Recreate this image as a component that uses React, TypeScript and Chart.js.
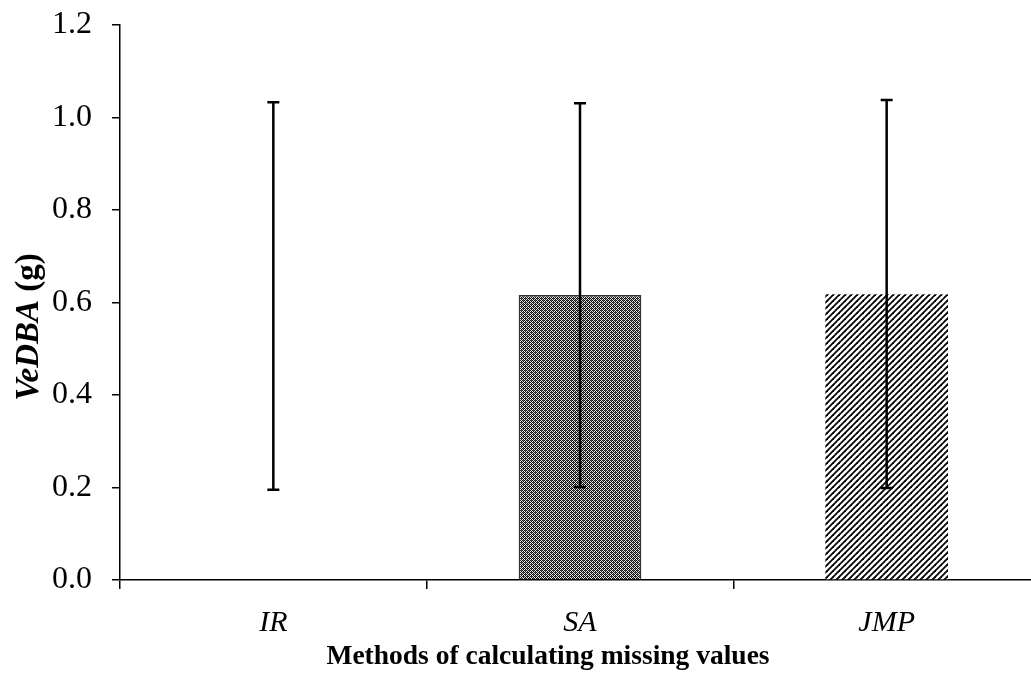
import React, { useEffect, useRef } from "react";
import { Chart, registerables } from "chart.js";

Chart.register(...registerables);

// Mean VeDBA per gap-filling method, with the low/high ends of the error bars
const methods = ["IR", "SA", "JMP"];
const meanVeDBA = [0.614, 0.616, 0.618];
const errLow = [0.195, 0.201, 0.199];
const errHigh = [1.033, 1.031, 1.038];
const yTicks = [0, 0.2, 0.4, 0.6, 0.8, 1.0, 1.2];

const SERIF = "'Liberation Serif', 'Times New Roman', serif";
const X_TITLE = "Methods of calculating missing values";

// Fine stipple used for the SA bar
function stipplePattern(ctx: CanvasRenderingContext2D): CanvasPattern | string {
  const c = document.createElement("canvas");
  c.width = 4;
  c.height = 4;
  const g = c.getContext("2d");
  if (!g) return "#777";
  g.fillStyle = "#e4e4e4";
  g.fillRect(0, 0, 4, 4);
  g.fillStyle = "#111";
  for (let y = 0; y < 4; y++) {
    for (let x = 0; x < 4; x++) {
      if ((x + y) % 2 === 0) g.fillRect(x, y, 1, 1);
    }
  }
  g.fillStyle = "#555";
  g.fillRect(1, 2, 1, 1);
  g.fillRect(3, 0, 1, 1);
  return ctx.createPattern(c, "repeat") || "#777";
}

// Diagonal hatching used for the JMP bar
function hatchPattern(ctx: CanvasRenderingContext2D): CanvasPattern | string {
  const s = 6;
  const c = document.createElement("canvas");
  c.width = s;
  c.height = s;
  const g = c.getContext("2d");
  if (!g) return "#555";
  g.fillStyle = "#fff";
  g.fillRect(0, 0, s, s);
  g.strokeStyle = "#000";
  g.lineWidth = 1.8;
  for (const off of [-s, 0, s]) {
    g.beginPath();
    g.moveTo(off - 1, s + 1);
    g.lineTo(off + s + 1, -1);
    g.stroke();
  }
  return ctx.createPattern(c, "repeat") || "#555";
}

const errorBars = {
  id: "errorBars",
  afterDatasetsDraw(chart: any) {
    const { ctx } = chart;
    const x = chart.scales.x;
    const y = chart.scales.y;
    ctx.save();
    ctx.strokeStyle = "#000";
    ctx.lineWidth = 2.5;
    methods.forEach((_, i) => {
      const cx = x.getPixelForValue(i);
      const yl = y.getPixelForValue(errLow[i]);
      const yh = y.getPixelForValue(errHigh[i]);
      ctx.beginPath();
      ctx.moveTo(cx, yl);
      ctx.lineTo(cx, yh);
      ctx.moveTo(cx - 6, yl);
      ctx.lineTo(cx + 6, yl);
      ctx.moveTo(cx - 6, yh);
      ctx.lineTo(cx + 6, yh);
      ctx.stroke();
    });
    ctx.restore();
  },
};

// Axis titles: the y title mixes bold-italic and bold runs
const axisTitles = {
  id: "axisTitles",
  afterDraw(chart: any) {
    const { ctx } = chart;
    ctx.save();
    ctx.fillStyle = "#000";
    ctx.textBaseline = "middle";

    // x title
    ctx.font = `bold 27.5px ${SERIF}`;
    ctx.textAlign = "center";
    ctx.fillText(X_TITLE, 548, 657);

    // y title
    const parts = [
      { text: "VeDBA", font: `italic bold 33px ${SERIF}` },
      { text: " (g)", font: `bold 33px ${SERIF}` },
    ];
    let total = 0;
    const widths = parts.map((p) => {
      ctx.font = p.font;
      const w = ctx.measureText(p.text).width;
      total += w;
      return w;
    });
    ctx.translate(29, 327);
    ctx.rotate(-Math.PI / 2);
    ctx.textAlign = "left";
    let px = -total / 2;
    parts.forEach((p, i) => {
      ctx.font = p.font;
      ctx.fillText(p.text, px, 0);
      px += widths[i];
    });
    ctx.restore();
  },
};

export default function App() {
  const ref = useRef<HTMLCanvasElement | null>(null);

  useEffect(() => {
    const canvas = ref.current;
    if (!canvas) return;
    const ctx = canvas.getContext("2d");
    if (!ctx) return;

    const chart = new Chart(ctx, {
      type: "bar",
      data: {
        labels: methods,
        datasets: [
          {
            data: meanVeDBA,
            backgroundColor: ["rgba(255,255,255,0)", stipplePattern(ctx), hatchPattern(ctx)] as any,
            borderColor: ["rgba(255,255,255,0)", "#333333", "rgba(255,255,255,0)"],
            borderWidth: [0, 1.5, 0],
            barPercentage: 0.4,
            categoryPercentage: 1,
          },
        ],
      },
      options: {
        responsive: false,
        animation: false,
        devicePixelRatio: 1,
        layout: { padding: { top: 25, right: 0, left: 0, bottom: 0 } },
        plugins: {
          legend: { display: false },
          tooltip: { enabled: false },
        },
        scales: {
          x: {
            afterFit: (s: any) => {
              s.height = 98;
              s.paddingLeft = 0;
              s.paddingRight = 0;
            },
            grid: {
              offset: true,
              drawOnChartArea: false,
              drawTicks: true,
              tickLength: 9,
              color: "#000",
              lineWidth: 1.5,
            },
            border: { color: "#000", width: 1.5 },
            ticks: {
              color: "#000",
              padding: 16,
              font: { family: SERIF, size: 30, style: "italic" },
            },
          },
          y: {
            min: 0,
            max: 1.2,
            afterFit: (s: any) => {
              s.width = 120;
              s.paddingTop = 0;
              s.paddingBottom = 0;
            },
            afterBuildTicks: (s: any) => {
              s.ticks = yTicks.map((v) => ({ value: v }));
            },
            grid: {
              drawOnChartArea: false,
              drawTicks: true,
              tickLength: 8,
              color: "#000",
              lineWidth: 1.5,
            },
            border: { color: "#000", width: 1.5 },
            ticks: {
              color: "#000",
              padding: 20,
              font: { family: SERIF, size: 32 },
              callback: (v: any) => Number(v).toFixed(1),
            },
          },
        },
      },
      plugins: [errorBars, axisTitles],
    });

    return () => chart.destroy();
  }, []);

  return (
    <div
      style={{
        position: "fixed",
        left: 0,
        top: 0,
        width: 1031,
        height: 678,
        overflow: "hidden",
        background: "#fff",
      }}
    >
      <canvas ref={ref} width={1040} height={678} style={{ width: 1040, height: 678, display: "block" }} />
    </div>
  );
}
